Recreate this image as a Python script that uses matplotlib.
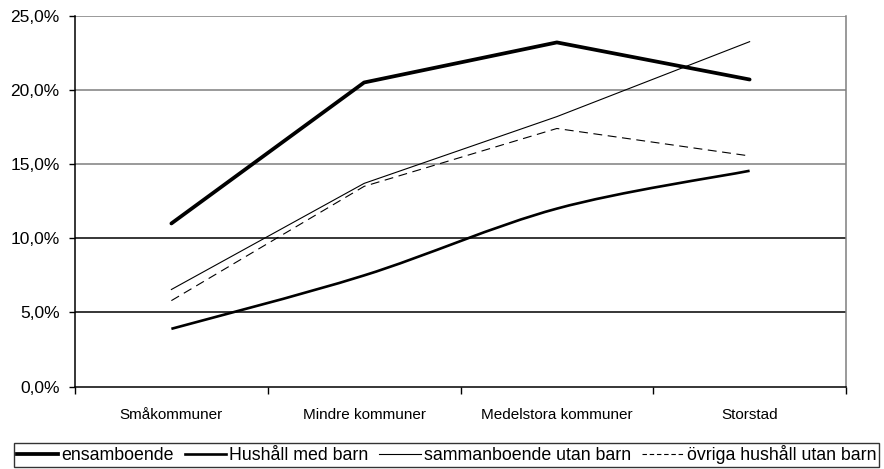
import numpy as np
import matplotlib
matplotlib.use("Agg")
import matplotlib.pyplot as plt
from matplotlib.path import Path
from matplotlib.patches import PathPatch
from matplotlib.lines import Line2D
from matplotlib.ticker import FuncFormatter

plt.rcParams['font.family'] = ['Liberation Sans', 'DejaVu Sans']

# Andel per kommungrupp (procent)
kommungrupper = ["Småkommuner", "Mindre kommuner", "Medelstora kommuner", "Storstad"]
ensamboende = [11.0, 20.5, 23.2, 20.7]
hushall_med_barn = [3.9, 7.5, 12.0, 14.55]
sammanboende_utan_barn = [6.55, 13.7, 18.2, 23.25]
ovriga_utan_barn = [5.8, 13.5, 17.4, 15.55]


def smooth_path(xs, ys):
    # Cubic Bezier through the points, Excel-style "smoothed line"
    pts = np.column_stack([xs, ys]).astype(float)
    ext = np.vstack([pts[0], pts, pts[-1]])
    verts = [tuple(pts[0])]
    codes = [Path.MOVETO]
    for i in range(len(pts) - 1):
        p0, p1, p2, p3 = ext[i], ext[i + 1], ext[i + 2], ext[i + 3]
        c1 = p1 + (p2 - p0) / 6.0
        c2 = p2 - (p3 - p1) / 6.0
        verts += [tuple(c1), tuple(c2), tuple(p2)]
        codes += [Path.CURVE4] * 3
    return Path(verts, codes)


fig = plt.figure(figsize=(8.84, 4.69), dpi=100)
ax = fig.add_axes([75 / 884, 1 - 386.7 / 469, (846 - 75) / 884, (386.7 - 15.7) / 469])

x = np.arange(len(kommungrupper))
ax.set_xlim(-0.5, len(kommungrupper) - 0.5)
ax.set_ylim(0, 25)

# horizontal gridlines
for level in [5, 10, 15, 20, 25]:
    col = "black" if level <= 10 else "#7f7f7f"
    ax.axhline(level, color=col, lw=1.1, zorder=1)

ax.plot(x, ensamboende, color="black", lw=2.7, solid_capstyle="round", zorder=4)
ax.add_patch(PathPatch(smooth_path(x, hushall_med_barn), facecolor="none",
                       edgecolor="black", lw=1.9, zorder=3))
ax.plot(x, sammanboende_utan_barn, color="black", lw=0.8, zorder=3)
ax.plot(x, ovriga_utan_barn, color="black", lw=0.8, dashes=(8, 5), zorder=3)

# axes styling
ax.spines["top"].set_visible(False)
ax.spines["right"].set_color("#7f7f7f")
ax.spines["right"].set_linewidth(1.1)
ax.spines["left"].set_linewidth(1.1)
ax.spines["bottom"].set_linewidth(1.1)

ax.set_yticks([0, 5, 10, 15, 20, 25])
ax.yaxis.set_major_formatter(FuncFormatter(lambda v, _: f"{v:.1f}".replace(".", ",") + "%"))
ax.tick_params(axis="y", direction="out", length=4, width=1, pad=7, labelsize=12.5)

ax.set_xticks(x)
ax.set_xticklabels(kommungrupper, fontsize=11)
ax.set_xticks(np.arange(len(kommungrupper) + 1) - 0.5, minor=True)
ax.tick_params(axis="x", which="major", length=0, pad=15)
ax.tick_params(axis="x", which="minor", direction="out", length=5, width=1)

handles = [
    Line2D([], [], color="black", lw=2.7),
    Line2D([], [], color="black", lw=1.9),
    Line2D([], [], color="black", lw=0.8),
    Line2D([], [], color="black", lw=0.8, dashes=(4, 2.5)),
]
labels = ["ensamboende", "Hushåll med barn", "sammanboende utan barn", "övriga hushåll utan barn"]
leg = fig.legend(handles, labels, loc="lower left", ncol=4,
                 bbox_to_anchor=(14 / 884, 2 / 469),
                 fontsize=12.8, handlelength=2.35, handletextpad=0.17, columnspacing=0.6,
                 borderpad=0.15, borderaxespad=0, frameon=True, fancybox=False)
leg.get_frame().set_edgecolor("black")
leg.get_frame().set_linewidth(1.0)

fig.savefig("out.png", dpi=100)
